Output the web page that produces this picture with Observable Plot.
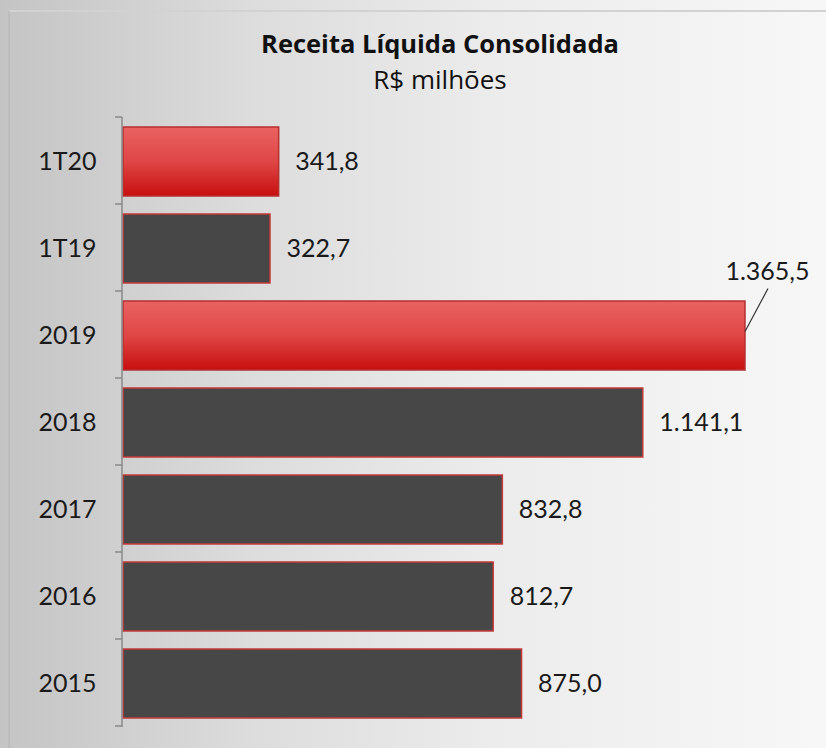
<!DOCTYPE html>
<html><head><meta charset="utf-8">
<script src="https://cdn.jsdelivr.net/npm/d3@7"></script>
<script src="https://cdn.jsdelivr.net/npm/@observablehq/plot@0.6"></script>
<style>
html,body{margin:0;padding:0;}
#wrap{position:relative;width:826px;height:748px;overflow:hidden;background:linear-gradient(to right,#c4c4c4 0%,#dcdcdc 30%,#ececec 60%,#f7f7f7 100%);font-family:Lato,sans-serif;}
#frame{position:absolute;left:8px;top:10px;right:-4px;bottom:-4px;border-left:2px solid #bcbcbc;border-top:2px solid #d2d2d2;}
#title{position:absolute;top:28px;left:0;width:880px;text-align:center;font-family:"Open Sans",sans-serif;font-weight:bold;font-size:25.5px;color:#111;line-height:30px;}
#subtitle{position:absolute;top:64px;left:0;width:880px;text-align:center;font-family:"Open Sans",sans-serif;font-size:26px;color:#111;line-height:30px;}
#chart{position:absolute;top:100px;left:0;}
</style></head>
<body>
<div id="wrap">
<div id="frame"></div>
<div id="title">Receita Líquida Consolidada</div>
<div id="subtitle">R$ milhões</div>
<div id="chart"></div>
</div>
<script>
const categories = ["1T20","1T19","2019","2018","2017","2016","2015"];
const values = [341.8, 322.7, 1365.5, 1141.1, 832.8, 812.7, 875.0];
const highlight = [true, false, true, false, false, false, false];
const leaderLabel = "2019";

const data = categories.map((c, i) => ({cat: c, value: values[i], hi: highlight[i]}));
const fmt = d3.formatLocale({decimal: ",", thousands: ".", grouping: [3], currency: ["R$ ", ""]}).format(",.1f");

const defs = () => {
  const d = d3.create("svg:defs");
  const g = d.append("linearGradient").attr("id", "redGrad").attr("x1", 0).attr("x2", 0).attr("y1", 0).attr("y2", 1);
  g.append("stop").attr("offset", "0%").attr("stop-color", "#e96262");
  g.append("stop").attr("offset", "50%").attr("stop-color", "#df4646");
  g.append("stop").attr("offset", "100%").attr("stop-color", "#c80f0f");
  return d.node();
};

const axisMark = (index, scales, values, dimensions) => {
  const y = scales.y;
  const [r0, r1] = y.range();
  const step = y.step();
  const xPos = dimensions.marginLeft - 1;
  const g = d3.create("svg:g").attr("stroke", "#8a8a8a").attr("stroke-width", 1.5).attr("fill", "none");
  g.append("line").attr("x1", xPos).attr("x2", xPos).attr("y1", r0).attr("y2", r1);
  const bounds = d3.range(categories.length + 1).map(k => r0 + k * step);
  for (const b of bounds) g.append("line").attr("x1", xPos - 7).attr("x2", xPos).attr("y1", b).attr("y2", b);
  return g.node();
};

const leaderMark = (index, scales) => {
  const d = data.find(e => e.cat === leaderLabel);
  const x = scales.x(d.value);
  const yc = scales.y(d.cat) + scales.y.bandwidth() / 2;
  return d3.create("svg:line").attr("x1", x).attr("y1", yc - 4).attr("x2", x + 23).attr("y2", yc - 47)
    .attr("stroke", "#333").attr("stroke-width", 1.2).node();
};

const chart = Plot.plot({
  width: 826, height: 648,
  marginTop: 17, marginBottom: 21, marginLeft: 123, marginRight: 81,
  x: {domain: [0, 1365.5], axis: null},
  y: {domain: categories, paddingInner: 0.21, paddingOuter: 0.105, axis: null},
  style: {background: "transparent", fontFamily: "Lato, sans-serif", overflow: "visible"},
  marks: [
    defs,
    Plot.barX(data.filter(d => !d.hi), {y: "cat", x: "value", fill: "#474747", stroke: "#c43a3a", strokeWidth: 1.5}),
    Plot.barX(data.filter(d => d.hi), {y: "cat", x: "value", fill: "url(#redGrad)", stroke: "#b53030", strokeWidth: 1.5}),
    axisMark,
    Plot.text(data, {y: "cat", text: "cat", frameAnchor: "left", textAnchor: "end", dx: -27, fontSize: 25, fill: "#1a1a1a"}),
    Plot.text(data.filter(d => d.cat !== leaderLabel), {x: "value", y: "cat", text: d => fmt(d.value), textAnchor: "start", dx: 16, fontSize: 25, fill: "#1a1a1a"}),
    Plot.text(data.filter(d => d.cat === leaderLabel), {x: "value", y: "cat", text: d => fmt(d.value), textAnchor: "middle", dx: 22, dy: -64, fontSize: 25, fill: "#1a1a1a"}),
    leaderMark
  ]
});
document.getElementById("chart").appendChild(chart);
</script>
</body></html>
